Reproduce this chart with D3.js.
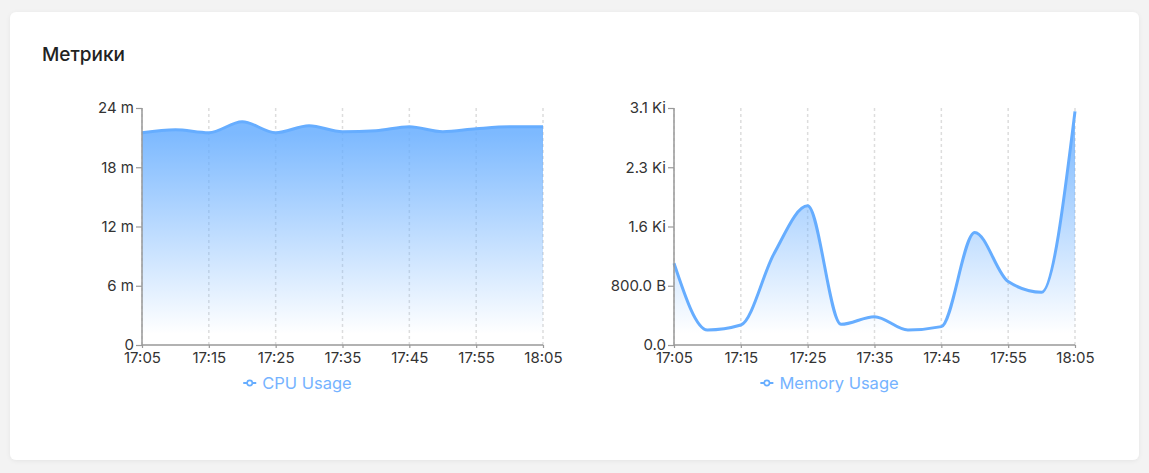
<!DOCTYPE html>
<html>
<head>
<meta charset="utf-8">
<script src="https://cdn.jsdelivr.net/npm/d3@7"></script>
<style>
  html, body { margin: 0; padding: 0; background: #f3f3f3; }
  svg { display: block; font-family: Inter, "Noto Sans", sans-serif; }
</style>
</head>
<body>
<script>
// data
var times = ['17:05', '17:10', '17:15', '17:20', '17:25', '17:30', '17:35',
             '17:40', '17:45', '17:50', '17:55', '18:00', '18:05'];
var tickTimes = ['17:05', '17:15', '17:25', '17:35', '17:45', '17:55', '18:05'];
var cpuValues = [21.5, 21.8, 21.5, 22.6, 21.5, 22.2, 21.6, 21.7, 22.1, 21.6, 21.9, 22.1, 22.1];
var memoryValues = [1104, 203, 270, 1240, 1880, 279, 383, 203, 248, 1520, 856, 712, 3155];
var cpuTicks = [0, 6, 12, 18, 24];
var memoryTicks = [0, 800, 1600, 2400, 3200];

var W = 1149, H = 473;
var lineColor = '#66adff';
var parseTime = d3.timeParse('%H:%M');

var svg = d3.select('body').append('svg').attr('width', W).attr('height', H);
var defs = svg.append('defs');

var shadow = defs.append('filter').attr('id', 'shadow')
  .attr('x', '-5%').attr('y', '-5%').attr('width', '110%').attr('height', '110%');
shadow.append('feDropShadow').attr('dx', 0).attr('dy', 1).attr('stdDeviation', 2)
  .attr('flood-color', '#000').attr('flood-opacity', 0.06);

svg.append('rect')
  .attr('x', 10).attr('y', 12).attr('width', 1129).attr('height', 448)
  .attr('rx', 6).attr('fill', '#fff').attr('filter', 'url(#shadow)');

svg.append('text')
  .attr('x', 42).attr('y', 61)
  .attr('font-size', 19).attr('font-weight', 500).attr('fill', '#222')
  .text('Метрики');

function bytesFormat(v) {
  if (v === 0) return '0.0';
  if (v < 1024) return v.toFixed(1) + ' B';
  return (v / 1024).toFixed(1) + ' Ki';
}

function drawChart(id, x0, values, yTicks, yFormat, legendText) {
  var x1 = x0 + 401, yTop = 108, yBottom = 345;
  var data = times.map(function (t, i) { return { t: parseTime(t), v: values[i] }; });

  var x = d3.scaleTime()
    .domain([parseTime(times[0]), parseTime(times[times.length - 1])])
    .range([x0, x1]);
  var y = d3.scaleLinear()
    .domain([yTicks[0], yTicks[yTicks.length - 1]])
    .range([yBottom, yTop]);

  var grad = defs.append('linearGradient').attr('id', 'grad-' + id)
    .attr('x1', 0).attr('y1', 0).attr('x2', 0).attr('y2', 1);
  grad.append('stop').attr('offset', '5%').attr('stop-color', lineColor).attr('stop-opacity', 0.85);
  grad.append('stop').attr('offset', '95%').attr('stop-color', lineColor).attr('stop-opacity', 0);

  var g = svg.append('g');

  // vertical dashed grid
  g.selectAll('line.grid')
    .data(tickTimes.map(parseTime))
    .enter().append('line')
    .attr('class', 'grid')
    .attr('x1', function (d) { return x(d); })
    .attr('x2', function (d) { return x(d); })
    .attr('y1', yTop).attr('y2', yBottom)
    .attr('stroke', '#ddd').attr('stroke-width', 1.5)
    .attr('stroke-dasharray', '3 3');

  var area = d3.area()
    .x(function (d) { return x(d.t); })
    .y0(yBottom)
    .y1(function (d) { return y(d.v); })
    .curve(d3.curveMonotoneX);
  var line = d3.line()
    .x(function (d) { return x(d.t); })
    .y(function (d) { return y(d.v); })
    .curve(d3.curveMonotoneX);

  g.append('path').datum(data)
    .attr('d', area)
    .attr('fill', 'url(#grad-' + id + ')');
  g.append('path').datum(data)
    .attr('d', line)
    .attr('fill', 'none')
    .attr('stroke', lineColor).attr('stroke-width', 3);

  // axes
  var yAxis = g.append('g')
    .attr('transform', 'translate(' + x0 + ',0)')
    .call(d3.axisLeft(y).tickValues(yTicks).tickFormat(yFormat).tickSize(6).tickPadding(2));
  var xAxis = g.append('g')
    .attr('transform', 'translate(0,' + yBottom + ')')
    .call(d3.axisBottom(x).tickValues(tickTimes.map(parseTime))
      .tickFormat(d3.timeFormat('%H:%M')).tickSize(3).tickPadding(4));

  [yAxis, xAxis].forEach(function (ax) {
    ax.select('.domain').attr('stroke', '#999').attr('stroke-width', 1.5);
    ax.selectAll('.tick line').attr('stroke', '#999').attr('stroke-width', 1.2);
    ax.selectAll('.tick text')
      .attr('font-family', 'Inter, "Noto Sans", sans-serif')
      .attr('font-size', 15).attr('fill', '#333');
  });
  yAxis.select('.domain').attr('d', 'M0,' + yTop + 'V' + yBottom);
  xAxis.select('.domain').attr('d', 'M' + x0 + ',0H' + x1);

  // legend
  var legendCenter = (x0 + x1) / 2 - 45;
  var lg = g.append('g');
  var txt = lg.append('text')
    .attr('y', 389).attr('font-size', 16.5).attr('fill', '#75b3ff')
    .text(legendText);
  var tw = txt.node().getComputedTextLength();
  var total = 14 + 5 + tw;
  var lx = legendCenter - total / 2;
  txt.attr('x', lx + 19);
  lg.append('line')
    .attr('x1', lx).attr('x2', lx + 13).attr('y1', 383).attr('y2', 383)
    .attr('stroke', lineColor).attr('stroke-width', 2);
  lg.append('circle')
    .attr('cx', lx + 6.5).attr('cy', 383).attr('r', 2.6)
    .attr('fill', '#fff').attr('stroke', lineColor).attr('stroke-width', 1.6);
}

drawChart('cpu', 142, cpuValues, cpuTicks,
  function (d) { return d === 0 ? '0' : d + ' m'; }, 'CPU Usage');
drawChart('mem', 674, memoryValues, memoryTicks, bytesFormat, 'Memory Usage');
</script>
</body>
</html>
